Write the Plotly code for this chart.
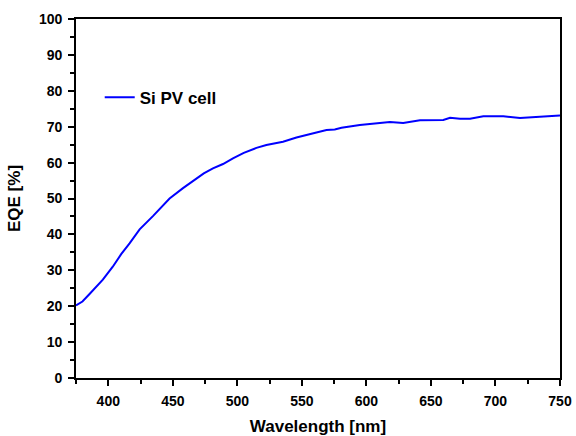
import plotly.graph_objects as go

wavelength = [375, 380, 385.5, 390, 395.8, 403.5, 410, 416.5, 424.3, 434.6, 447.5, 457.9, 468.2,
              474, 481.1, 488.9, 496.6, 505, 514.8, 522.5, 535.4, 545.8, 561.3, 569.1, 575.5,
              580.7, 594.9, 602.7, 610.4, 618.2, 628.5, 641.5, 659.6, 664.8, 672.5, 680.3,
              690.6, 706.1, 719, 732, 750]
eqe = [20.2, 21.3, 23.4, 25.2, 27.4, 31.0, 34.5, 37.5, 41.4, 45.1, 50.0, 52.9, 55.4,
       57.0, 58.4, 59.6, 61.2, 62.7, 64.1, 64.9, 65.8, 67.0, 68.4, 69.1, 69.2,
       69.7, 70.5, 70.8, 71.0, 71.3, 71.0, 71.8, 71.9, 72.5, 72.2, 72.2,
       72.9, 72.9, 72.4, 72.7, 73.1]

series_name = "Si PV cell"
x_title = "Wavelength [nm]"
y_title = "EQE [%]"

fig = go.Figure()
fig.add_trace(go.Scatter(x=wavelength, y=eqe, mode="lines", name=series_name,
                         line=dict(color="#0000ff", width=2)))

font_family = "Liberation Sans, Arial, sans-serif"
axis_common = dict(showline=True, linecolor="black", linewidth=1.8, mirror=True,
                   ticks="outside", ticklen=6, tickwidth=1.5, tickcolor="black",
                   showgrid=False, zeroline=False, automargin=False, ticklabelstandoff=3,
                   tickfont=dict(family=font_family, size=14, color="black", weight="bold"),
                   title_font=dict(family=font_family, size=17, color="black", weight="bold"))

fig.update_xaxes(range=[375, 750], tick0=0, dtick=50, title_text=x_title, title_standoff=12,
                 minor=dict(ticks="outside", ticklen=4, tickwidth=1.5, tickcolor="black", dtick=25, tick0=0),
                 **axis_common)
fig.update_yaxes(range=[0, 100], tick0=0, dtick=10, title_text=y_title, title_standoff=14,
                 minor=dict(ticks="outside", ticklen=4, tickwidth=1.5, tickcolor="black", dtick=5, tick0=0),
                 **axis_common)

fig.update_layout(width=576, height=436, plot_bgcolor="white", paper_bgcolor="white",
                  margin=dict(l=76, r=16, t=19, b=58),
                  showlegend=True,
                  legend=dict(x=0.049, y=0.781, xanchor="left", yanchor="middle",
                              bgcolor="rgba(0,0,0,0)",
                              font=dict(family=font_family, size=17, color="black", weight="bold")))

fig.write_html("out.html", config={"displayModeBar": False},
               post_script="document.body.style.margin='0';document.body.style.overflow='hidden';")
